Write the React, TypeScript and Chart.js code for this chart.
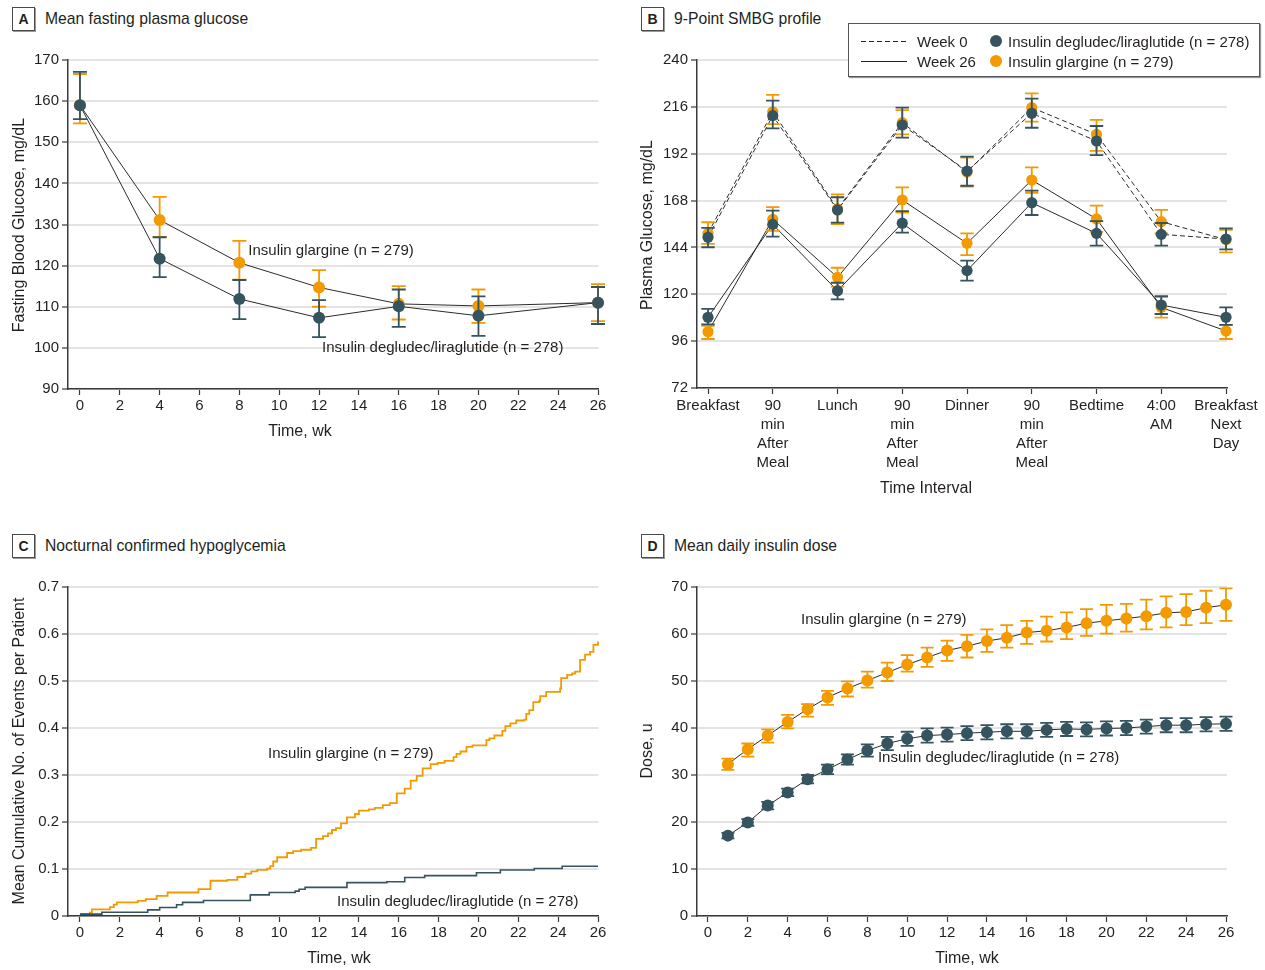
import React, { useEffect, useRef } from 'react';
import { Chart, registerables } from 'chart.js';
Chart.register(...registerables);

const FONT = "'Liberation Sans', Arial, sans-serif";
const ORANGE = '#f39a00';
const TEAL = '#35545f';
const TEXT = '#231f20';
const AXIS = '#3a3a3a';
const GRID = '#e4e4e4';
const LINE = '#2b2b2b';

// ---------- Panel A: mean fasting plasma glucose ----------
const fpgWeeks = [0, 4, 8, 12, 16, 20, 26];
const fpgDegludec = [159.0, 121.7, 111.9, 107.3, 110.1, 107.8, 111.0];
const fpgDegludecLo = [155.6, 117.2, 107.0, 102.6, 105.1, 102.9, 105.8];
const fpgDegludecHi = [167.1, 126.9, 116.5, 111.6, 114.2, 112.5, 114.8];
const fpgGlargine = [159.0, 131.1, 120.7, 114.7, 110.7, 110.2, 111.0];
const fpgGlargineLo = [154.6, 127.0, 116.6, 110.0, 106.9, 106.1, 106.5];
const fpgGlargineHi = [166.6, 136.7, 126.0, 118.9, 115.0, 114.2, 115.5];
const fpgYTicks = [90, 100, 110, 120, 130, 140, 150, 160, 170];
const fpgYLabels = ['90', '100', '110', '120', '130', '140', '150', '160', '170'];

// ---------- Panel B: 9-point SMBG profile ----------
const smbgCategories = [
  ['Breakfast'],
  ['90', 'min', 'After', 'Meal'],
  ['Lunch'],
  ['90', 'min', 'After', 'Meal'],
  ['Dinner'],
  ['90', 'min', 'After', 'Meal'],
  ['Bedtime'],
  ['4:00', 'AM'],
  ['Breakfast', 'Next', 'Day'],
];
const smbgIndex = [0, 1, 2, 3, 4, 5, 6, 7, 8];
const smbgDegludecW0 = [149.2, 211.5, 163.2, 206.7, 183.1, 212.7, 198.5, 150.7, 148.3];
const smbgDegludecW0Lo = [144.1, 205.0, 156.7, 200.2, 175.6, 205.3, 191.3, 144.9, 143.0];
const smbgDegludecW0Hi = [154.0, 219.2, 169.7, 215.6, 190.5, 220.2, 206.2, 156.5, 153.8];
const smbgGlargineW0 = [151.2, 213.5, 163.7, 207.9, 182.6, 215.6, 201.9, 157.2, 148.0];
const smbgGlargineW0Lo = [145.8, 207.2, 156.0, 201.9, 175.1, 208.4, 193.5, 151.2, 141.5];
const smbgGlargineW0Hi = [156.9, 222.1, 171.2, 214.3, 190.0, 222.9, 209.3, 163.2, 153.0];
const smbgDegludecW26 = [108.2, 155.8, 121.8, 156.4, 132.1, 166.9, 151.2, 114.5, 108.2];
const smbgDegludecW26Lo = [104.6, 149.5, 117.4, 151.6, 127.0, 160.6, 144.9, 109.9, 104.3];
const smbgDegludecW26Hi = [112.5, 162.8, 125.9, 162.6, 137.2, 173.1, 157.5, 119.1, 113.3];
const smbgGlargineW26 = [100.8, 158.4, 128.7, 168.3, 146.1, 178.5, 158.6, 113.3, 101.2];
const smbgGlargineW26Lo = [97.1, 152.5, 123.9, 161.8, 140.1, 172.0, 152.0, 108.0, 97.1];
const smbgGlargineW26Hi = [103.8, 164.6, 133.6, 174.8, 151.2, 185.0, 165.4, 118.5, 104.3];
const smbgYTicks = [72, 96, 120, 144, 168, 192, 216, 240];
const smbgYLabels = ['72', '96', '120', '144', '168', '192', '216', '240'];

// ---------- Panel C: nocturnal confirmed hypoglycemia ----------
const hypoGlargineWeeks = [0, 0.5, 0.6, 1.5, 1.7, 1.85, 2.9, 3.3, 3.85, 4.4, 5.95, 6.55, 7.4, 7.9, 8.3, 8.6, 8.9, 9.4, 9.55, 9.7, 9.9, 10.4, 10.7, 11.1, 11.6, 11.85, 12.2, 12.45, 12.65, 12.85, 13.1, 13.4, 13.8, 14.0, 14.5, 14.8, 15.2, 15.55, 15.9, 16.3, 16.6, 16.9, 17.2, 17.6, 17.95, 18.3, 18.75, 18.9, 19.1, 19.4, 19.7, 20.4, 20.55, 20.8, 21.2, 21.35, 21.6, 21.9, 22.3, 22.4, 22.55, 22.75, 23.05, 23.1, 23.4, 24.1, 24.15, 24.45, 24.7, 24.85, 25.1, 25.35, 25.6, 25.77, 26.0];
const hypoGlargineValues = [0.004, 0.007, 0.014, 0.019, 0.024, 0.029, 0.032, 0.036, 0.043, 0.050, 0.057, 0.075, 0.077, 0.083, 0.090, 0.095, 0.098, 0.101, 0.106, 0.116, 0.125, 0.134, 0.138, 0.141, 0.145, 0.164, 0.170, 0.176, 0.183, 0.187, 0.197, 0.210, 0.217, 0.224, 0.227, 0.230, 0.236, 0.240, 0.261, 0.271, 0.288, 0.298, 0.314, 0.323, 0.326, 0.330, 0.338, 0.345, 0.350, 0.360, 0.363, 0.374, 0.378, 0.384, 0.394, 0.404, 0.410, 0.416, 0.418, 0.430, 0.438, 0.455, 0.458, 0.468, 0.477, 0.484, 0.506, 0.513, 0.516, 0.520, 0.545, 0.556, 0.562, 0.577, 0.584];
const hypoDegludecWeeks = [0, 1.1, 3.4, 4.0, 4.85, 5.15, 6.2, 8.55, 9.5, 10.8, 11.0, 11.3, 13.4, 15.4, 16.3, 17.3, 19.9, 21.1, 22.8, 24.2, 26.0];
const hypoDegludecValues = [0.004, 0.008, 0.013, 0.018, 0.024, 0.029, 0.033, 0.045, 0.050, 0.053, 0.057, 0.061, 0.071, 0.073, 0.082, 0.086, 0.092, 0.098, 0.101, 0.106, 0.106];
const hypoYTicks = [0, 0.1, 0.2, 0.3, 0.4, 0.5, 0.6, 0.7];
const hypoYLabels = ['0', '0.1', '0.2', '0.3', '0.4', '0.5', '0.6', '0.7'];

// ---------- Panel D: mean daily insulin dose ----------
const doseWeeks = [1, 2, 3, 4, 5, 6, 7, 8, 9, 10, 11, 12, 13, 14, 15, 16, 17, 18, 19, 20, 21, 22, 23, 24, 25, 26];
const doseGlargine = [32.3, 35.5, 38.4, 41.3, 44.0, 46.5, 48.4, 50.1, 51.8, 53.5, 55.0, 56.5, 57.4, 58.5, 59.2, 60.3, 60.7, 61.4, 62.3, 62.8, 63.3, 63.8, 64.5, 64.7, 65.6, 66.2];
const doseGlargineLo = [31.1, 33.9, 36.9, 39.9, 42.4, 44.9, 46.7, 48.6, 50.0, 52.0, 53.0, 54.3, 55.0, 56.2, 57.1, 57.9, 58.4, 58.9, 59.6, 60.1, 60.5, 61.0, 61.4, 61.9, 62.3, 62.8];
const doseGlargineHi = [33.5, 36.7, 39.7, 42.8, 45.1, 47.9, 49.9, 52.0, 53.9, 55.5, 57.1, 58.6, 59.8, 61.0, 61.9, 62.8, 63.7, 64.6, 65.3, 66.2, 66.4, 67.3, 68.0, 68.5, 69.2, 69.7];
const doseDegludec = [17.1, 19.9, 23.5, 26.3, 29.1, 31.2, 33.3, 35.2, 36.7, 37.7, 38.4, 38.6, 38.9, 39.1, 39.3, 39.3, 39.6, 39.8, 39.7, 39.9, 40.0, 40.3, 40.6, 40.6, 40.8, 40.9];
const doseDegludecLo = [16.5, 19.2, 22.7, 25.5, 28.2, 30.2, 32.2, 33.9, 35.3, 36.2, 36.9, 37.1, 37.4, 37.6, 37.8, 37.8, 38.1, 38.3, 38.2, 38.4, 38.5, 38.8, 39.1, 39.1, 39.3, 39.4];
const doseDegludecHi = [17.7, 20.6, 24.3, 27.1, 30.0, 32.2, 34.4, 36.5, 38.1, 39.2, 39.9, 40.1, 40.4, 40.6, 40.8, 40.8, 41.1, 41.3, 41.2, 41.4, 41.5, 41.8, 42.1, 42.1, 42.3, 42.4];
const doseYTicks = [0, 10, 20, 30, 40, 50, 60, 70];
const doseYLabels = ['0', '10', '20', '30', '40', '50', '60', '70'];

const weekTicks = [0, 2, 4, 6, 8, 10, 12, 14, 16, 18, 20, 22, 24, 26];
const weekLabels = ['0', '2', '4', '6', '8', '10', '12', '14', '16', '18', '20', '22', '24', '26'];

const GLARGINE_LABEL = 'Insulin glargine (n = 279)';
const DEGLUDEC_LABEL = 'Insulin degludec/liraglutide (n = 278)';

// ---------- plugins ----------
const errorBarPlugin = {
  id: 'errorBars',
  beforeDatasetDraw(chart: any, args: any) {
    const ds: any = chart.data.datasets[args.index];
    if (!ds.errLo) return;
    const meta = args.meta;
    const ys = chart.scales[meta.yAxisID];
    const ctx = chart.ctx;
    const cap = ds.capHalf ?? 7;
    ctx.save();
    ctx.strokeStyle = ds.errColor;
    ctx.lineWidth = ds.errWidth ?? 1.8;
    meta.data.forEach((pt: any, j: number) => {
      const x = pt.x;
      const yl = ys.getPixelForValue(ds.errLo[j]);
      const yh = ys.getPixelForValue(ds.errHi[j]);
      ctx.beginPath();
      ctx.moveTo(x, yl);
      ctx.lineTo(x, yh);
      ctx.moveTo(x - cap, yl);
      ctx.lineTo(x + cap, yl);
      ctx.moveTo(x - cap, yh);
      ctx.lineTo(x + cap, yh);
      ctx.stroke();
    });
    ctx.restore();
  },
};

const notesPlugin = {
  id: 'notes',
  afterDatasetsDraw(chart: any, _args: any, opts: any) {
    const items = (opts && opts.items) || [];
    const ctx = chart.ctx;
    ctx.save();
    ctx.font = `15px ${FONT}`;
    ctx.fillStyle = TEXT;
    ctx.textAlign = 'left';
    ctx.textBaseline = 'middle';
    for (const it of items) {
      const x = chart.scales.x.getPixelForValue(it.x);
      const y = chart.scales.y.getPixelForValue(it.y);
      ctx.fillText(it.text, x, y);
    }
    ctx.restore();
  },
};

// ---------- builders ----------
function pts(xs: number[], ys: number[]) {
  return xs.map((x, i) => ({ x, y: ys[i] }));
}

function lineDs(data: any[], dash: number[], order: number, color = LINE, width = 1, stepped: any = false) {
  return {
    data,
    borderColor: color,
    borderWidth: width,
    borderDash: dash,
    pointRadius: 0,
    pointHoverRadius: 0,
    fill: false,
    tension: 0,
    stepped,
    order,
    clip: false,
  };
}

function pointDs(data: any[], color: string, lo: number[], hi: number[], order: number, radius: number, cap: number) {
  return {
    data,
    showLine: false,
    pointRadius: radius,
    pointHoverRadius: radius,
    pointBackgroundColor: color,
    pointBorderColor: color,
    pointBorderWidth: 0,
    errLo: lo,
    errHi: hi,
    errColor: color,
    capHalf: cap,
    order,
    clip: false,
  };
}

function makeX(min: number, max: number, ticks: number[], labels: any[], height: number, lineHeight = 1.2) {
  return {
    type: 'linear',
    min,
    max,
    afterBuildTicks: (s: any) => {
      s.ticks = ticks.map((v) => ({ value: v }));
    },
    afterFit: (s: any) => {
      s.height = height;
    },
    grid: { display: true, drawOnChartArea: false, drawTicks: true, tickLength: 6, tickColor: AXIS, tickWidth: 1.2 },
    border: { display: true, color: AXIS, width: 1.5 },
    ticks: {
      color: TEXT,
      font: { family: FONT, size: 15, lineHeight },
      padding: 2,
      maxRotation: 0,
      minRotation: 0,
      autoSkip: false,
      callback: (_v: any, i: number) => labels[i],
    },
  };
}

function makeY(min: number, max: number, ticks: number[], labels: string[], width: number) {
  return {
    type: 'linear',
    min,
    max,
    afterBuildTicks: (s: any) => {
      s.ticks = ticks.map((v) => ({ value: v }));
    },
    afterFit: (s: any) => {
      s.width = width;
    },
    grid: { color: GRID, lineWidth: 2, drawTicks: true, tickLength: 6, tickColor: AXIS, tickWidth: 1.2 },
    border: { display: true, color: AXIS, width: 1.5 },
    ticks: {
      color: TEXT,
      font: { family: FONT, size: 15 },
      padding: 3,
      callback: (_v: any, i: number) => labels[i],
    },
  };
}

function baseOptions(padding: any, scales: any, notes: any[]) {
  return {
    responsive: false,
    animation: false,
    events: [],
    layout: { padding },
    scales,
    plugins: {
      legend: { display: false },
      tooltip: { enabled: false },
      title: { display: false },
      notes: { items: notes },
    },
  };
}

function configA() {
  return {
    type: 'line',
    data: {
      datasets: [
        pointDs(pts(fpgWeeks, fpgDegludec), TEAL, fpgDegludecLo, fpgDegludecHi, 0, 6, 7),
        pointDs(pts(fpgWeeks, fpgGlargine), ORANGE, fpgGlargineLo, fpgGlargineHi, 1, 6, 7),
        lineDs(pts(fpgWeeks, fpgDegludec), [], 2),
        lineDs(pts(fpgWeeks, fpgGlargine), [], 3),
      ],
    },
    options: baseOptions(
      { left: 0, top: 20, right: 33.5, bottom: 0 },
      { x: makeX(-0.6, 26.025, weekTicks, weekLabels, 91), y: makeY(90, 170, fpgYTicks, fpgYLabels, 68) },
      [
        { text: GLARGINE_LABEL, x: 8.45, y: 123.5 },
        { text: DEGLUDEC_LABEL, x: 12.15, y: 99.9 },
      ]
    ),
    plugins: [errorBarPlugin, notesPlugin],
  };
}

function configB() {
  return {
    type: 'line',
    data: {
      datasets: [
        pointDs(pts(smbgIndex, smbgDegludecW0), TEAL, smbgDegludecW0Lo, smbgDegludecW0Hi, 0, 5.6, 6.7),
        pointDs(pts(smbgIndex, smbgDegludecW26), TEAL, smbgDegludecW26Lo, smbgDegludecW26Hi, 1, 5.6, 6.7),
        pointDs(pts(smbgIndex, smbgGlargineW0), ORANGE, smbgGlargineW0Lo, smbgGlargineW0Hi, 2, 5.6, 6.7),
        pointDs(pts(smbgIndex, smbgGlargineW26), ORANGE, smbgGlargineW26Lo, smbgGlargineW26Hi, 3, 5.6, 6.7),
        lineDs(pts(smbgIndex, smbgDegludecW0), [5, 3], 4),
        lineDs(pts(smbgIndex, smbgGlargineW0), [5, 3], 5),
        lineDs(pts(smbgIndex, smbgDegludecW26), [], 6),
        lineDs(pts(smbgIndex, smbgGlargineW26), [], 7),
      ],
    },
    options: baseOptions(
      { left: 0, top: 20, right: 38, bottom: 0 },
      {
        x: makeX(-0.17, 8.015, smbgIndex, smbgCategories, 112, 19 / 15),
        y: makeY(72, 240, smbgYTicks, smbgYLabels, 65),
      },
      []
    ),
    plugins: [errorBarPlugin, notesPlugin],
  };
}

function configC() {
  return {
    type: 'line',
    data: {
      datasets: [
        lineDs(pts(hypoDegludecWeeks, hypoDegludecValues), [], 0, TEAL, 1.6, 'before'),
        lineDs(pts(hypoGlargineWeeks, hypoGlargineValues), [], 1, ORANGE, 1.8, 'before'),
      ],
    },
    options: baseOptions(
      { left: 0, top: 20, right: 33.5, bottom: 0 },
      { x: makeX(-0.6, 26.025, weekTicks, weekLabels, 54), y: makeY(0, 0.7, hypoYTicks, hypoYLabels, 68) },
      [
        { text: GLARGINE_LABEL, x: 9.44, y: 0.345 },
        { text: DEGLUDEC_LABEL, x: 12.9, y: 0.03 },
      ]
    ),
    plugins: [errorBarPlugin, notesPlugin],
  };
}

function configD() {
  return {
    type: 'line',
    data: {
      datasets: [
        pointDs(pts(doseWeeks, doseDegludec), TEAL, doseDegludecLo, doseDegludecHi, 0, 6, 6.5),
        pointDs(pts(doseWeeks, doseGlargine), ORANGE, doseGlargineLo, doseGlargineHi, 1, 6, 6.5),
        lineDs(pts(doseWeeks, doseDegludec), [], 2),
        lineDs(pts(doseWeeks, doseGlargine), [], 3),
      ],
    },
    options: baseOptions(
      { left: 0, top: 20, right: 38, bottom: 0 },
      { x: makeX(-0.55, 26.05, weekTicks, weekLabels, 54), y: makeY(0, 70, doseYTicks, doseYLabels, 65) },
      [
        { text: GLARGINE_LABEL, x: 4.67, y: 63.0 },
        { text: DEGLUDEC_LABEL, x: 8.53, y: 33.6 },
      ]
    ),
    plugins: [errorBarPlugin, notesPlugin],
  };
}

// ---------- components ----------
function ChartCanvas(props: { left: number; top: number; width: number; height: number; make: () => any }) {
  const ref = useRef<HTMLCanvasElement | null>(null);
  useEffect(() => {
    const chart = new Chart(ref.current as HTMLCanvasElement, props.make());
    return () => chart.destroy();
  }, []);
  return (
    <canvas
      ref={ref}
      width={props.width}
      height={props.height}
      style={{ position: 'absolute', left: props.left, top: props.top, width: props.width, height: props.height }}
    />
  );
}

function Header(props: { x: number; y: number; letter: string; title: string }) {
  return (
    <>
      <div
        style={{
          position: 'absolute',
          left: props.x,
          top: props.y,
          width: 21,
          height: 22,
          border: '1px solid #4a4a4a',
          boxShadow: '1px 1px 0 #999',
          boxSizing: 'content-box',
          display: 'flex',
          alignItems: 'center',
          justifyContent: 'center',
          fontWeight: 'bold',
          fontSize: 14,
          color: TEXT,
          background: '#fff',
        }}
      >
        {props.letter}
      </div>
      <div
        style={{
          position: 'absolute',
          left: props.x + 33,
          top: props.y + 11.5,
          transform: 'translateY(-50%)',
          fontSize: 15.7,
          lineHeight: 1,
          whiteSpace: 'nowrap',
          color: TEXT,
        }}
      >
        {props.title}
      </div>
    </>
  );
}

function Label(props: { cx: number; cy: number; text: string; rotate?: boolean; size?: number }) {
  return (
    <div
      style={{
        position: 'absolute',
        left: props.cx,
        top: props.cy,
        transform: `translate(-50%, -50%)${props.rotate ? ' rotate(-90deg)' : ''}`,
        fontSize: props.size ?? 16,
        lineHeight: 1,
        whiteSpace: 'nowrap',
        color: TEXT,
      }}
    >
      {props.text}
    </div>
  );
}

function Legend() {
  const row = (y: number) => y - 23;
  return (
    <div
      style={{
        position: 'absolute',
        left: 848,
        top: 23,
        width: 410,
        height: 52,
        border: '1px solid #555',
        boxShadow: '1px 1px 1px #999',
        background: '#fff',
        fontSize: 15,
        color: TEXT,
      }}
    >
      <div
        style={{
          position: 'absolute',
          left: 12,
          top: row(40),
          width: 46,
          height: 1.3,
          background: 'repeating-linear-gradient(to right, #222 0px, #222 5px, transparent 5px, transparent 8px)',
        }}
      />
      <div style={{ position: 'absolute', left: 12, top: row(60), width: 46, height: 1.3, background: '#222' }} />
      <div style={{ position: 'absolute', left: 68, top: row(40), transform: 'translateY(-50%)', lineHeight: 1, whiteSpace: 'nowrap' }}>Week 0</div>
      <div style={{ position: 'absolute', left: 68, top: row(60), transform: 'translateY(-50%)', lineHeight: 1, whiteSpace: 'nowrap' }}>Week 26</div>
      <div style={{ position: 'absolute', left: 141, top: row(40) - 6, width: 12, height: 12, borderRadius: 6, background: TEAL }} />
      <div style={{ position: 'absolute', left: 141, top: row(60) - 6, width: 12, height: 12, borderRadius: 6, background: ORANGE }} />
      <div style={{ position: 'absolute', left: 159, top: row(40), transform: 'translateY(-50%)', lineHeight: 1, whiteSpace: 'nowrap' }}>{DEGLUDEC_LABEL}</div>
      <div style={{ position: 'absolute', left: 159, top: row(60), transform: 'translateY(-50%)', lineHeight: 1, whiteSpace: 'nowrap' }}>{GLARGINE_LABEL}</div>
    </div>
  );
}

export default function App() {
  return (
    <div
      style={{
        position: 'absolute',
        left: 0,
        top: 0,
        width: 1265,
        height: 970,
        background: '#fff',
        fontFamily: FONT,
        overflow: 'hidden',
      }}
    >
      <ChartCanvas left={0} top={40} width={632} height={440} make={configA} />
      <ChartCanvas left={632} top={40} width={633} height={460} make={configB} />
      <ChartCanvas left={0} top={567} width={632} height={403} make={configC} />
      <ChartCanvas left={632} top={567} width={633} height={403} make={configD} />

      <Header x={12} y={7} letter="A" title="Mean fasting plasma glucose" />
      <Header x={641} y={7} letter="B" title="9-Point SMBG profile" />
      <Header x={12} y={534} letter="C" title="Nocturnal confirmed hypoglycemia" />
      <Header x={641} y={534} letter="D" title="Mean daily insulin dose" />

      <Legend />

      <Label cx={19} cy={225} text="Fasting Blood Glucose, mg/dL" rotate />
      <Label cx={300} cy={431} text="Time, wk" />
      <Label cx={647} cy={225} text="Plasma Glucose, mg/dL" rotate />
      <Label cx={926} cy={488} text="Time Interval" />
      <Label cx={19} cy={751} text="Mean Cumulative No. of Events per Patient" rotate />
      <Label cx={339} cy={958} text="Time, wk" />
      <Label cx={647} cy={751} text="Dose, u" rotate />
      <Label cx={967} cy={958} text="Time, wk" />
    </div>
  );
}
